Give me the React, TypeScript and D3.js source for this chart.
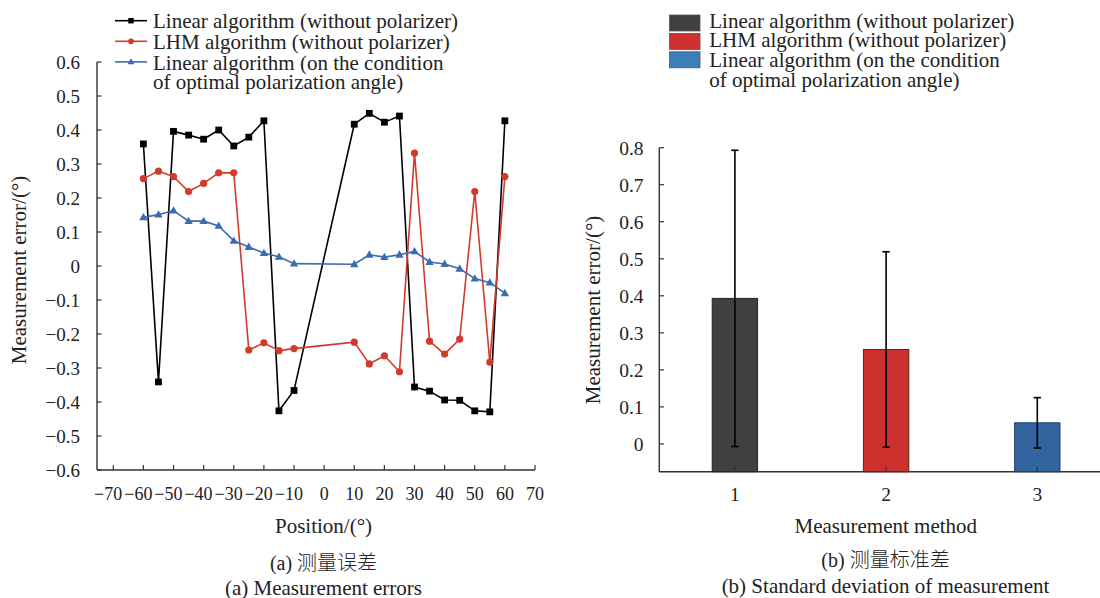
import React from 'react';
import * as d3 from 'd3';

// ---------- Data: (a) measurement errors ----------
const positions = [-60, -55, -50, -45, -40, -35, -30, -25, -20, -15, -10, 10, 15, 20, 25, 30, 35, 40, 45, 50, 55, 60];
const linearNoPolarizer = [0.359, -0.341, 0.396, 0.385, 0.373, 0.400, 0.353, 0.379, 0.427, -0.426, -0.366, 0.417, 0.449, 0.423, 0.441, -0.356, -0.368, -0.394, -0.395, -0.426, -0.429, 0.427];
const lhmNoPolarizer = [0.257, 0.279, 0.263, 0.219, 0.243, 0.274, 0.274, -0.247, -0.226, -0.249, -0.243, -0.224, -0.288, -0.264, -0.311, 0.332, -0.221, -0.259, -0.215, 0.219, -0.283, 0.263];
const linearOptimal = [0.143, 0.151, 0.163, 0.132, 0.132, 0.118, 0.074, 0.056, 0.038, 0.027, 0.007, 0.005, 0.033, 0.026, 0.033, 0.043, 0.012, 0.006, -0.008, -0.037, -0.049, -0.080];
const xTicksA = [-70, -60, -50, -40, -30, -20, -10, 0, 10, 20, 30, 40, 50, 60, 70];
const yTicksA = [-0.6, -0.5, -0.4, -0.3, -0.2, -0.1, 0, 0.1, 0.2, 0.3, 0.4, 0.5, 0.6];

// ---------- Data: (b) standard deviation ----------
const methods = [1, 2, 3];
const methodMeans = [0.393, 0.255, 0.057];
const methodStd = [0.400, 0.264, 0.068];
const yTicksB = [0, 0.1, 0.2, 0.3, 0.4, 0.5, 0.6, 0.7, 0.8];

const legendLines = [
  ['Linear algorithm (without polarizer)'],
  ['LHM algorithm (without polarizer)'],
  ['Linear algorithm (on the condition', 'of optimal polarization angle)'],
];

const lineColors = ['#000000', '#d23a2b', '#3a6cb0'];
const barColors = ['#404040', '#cc312d', '#3464a0'];
const barStrokes = ['#222222', '#6a1c18', '#1f3d66'];
const legendSwatch = ['#3f3f3f', '#cc3030', '#3b7fb6'];

const SERIF = '"Liberation Serif", "Times New Roman", Times, serif';
const CJK = '"Noto Sans CJK SC", "Noto Sans CJK JP", sans-serif';
const AXIS = '#333333';

export default function App() {
  // ----- panel (a) scales -----
  const xA = d3.scaleLinear().domain([-75.4, 70]).range([97, 535]);
  const yA = d3.scaleLinear().domain([-0.6, 0.6]).range([470, 62]);
  const series = [linearNoPolarizer, lhmNoPolarizer, linearOptimal];
  const lineGen = d3
    .line<number>()
    .x((_, i) => xA(positions[i]))
    .y((d) => yA(d));

  // ----- panel (b) scales -----
  const xB = d3.scaleLinear().domain([0.5, 3.5]).range([659.3, 1112.9]);
  const yB = d3.scaleLinear().domain([-0.075, 0.8]).range([471.7, 147.7]);
  const barHalf = 0.15;

  const fmt = (v: number) => (v === 0 ? '0' : d3.format('.1f')(v));

  const marker = (k: number, cx: number, cy: number, key: string, scale = 1) => {
    const c = lineColors[k];
    if (k === 0) {
      const s = 6.8 * scale;
      return <rect key={key} x={cx - s / 2} y={cy - s / 2} width={s} height={s} fill={c} />;
    }
    if (k === 1) {
      return <circle key={key} cx={cx} cy={cy} r={3.6 * scale} fill={c} />;
    }
    const w = 8.4 * scale;
    const h = 7.4 * scale;
    const p = `M${cx},${cy - h * 0.6}L${cx + w / 2},${cy + h * 0.4}L${cx - w / 2},${cy + h * 0.4}Z`;
    return <path key={key} d={p} fill={c} />;
  };

  const T = (props: any) => <text fontFamily={SERIF} fill="#222" {...props} />;

  return (
    <svg
      width={1100}
      height={598}
      style={{ position: 'absolute', left: 0, top: 0, background: '#fff', fontFamily: SERIF }}
    >
      <rect x={0} y={0} width={1100} height={598} fill="#fff" />

      {/* ================= Panel (a) ================= */}
      <g>
        <line x1={xA.range()[0]} x2={xA.range()[0]} y1={yA(0.6)} y2={yA(-0.6)} stroke={AXIS} strokeWidth={1.4} />
        <line x1={xA.range()[0]} x2={xA.range()[1]} y1={yA(-0.6)} y2={yA(-0.6)} stroke={AXIS} strokeWidth={1.4} />
        {yTicksA.map((v) => (
          <g key={'ya' + v}>
            <line x1={xA.range()[0]} x2={xA.range()[0] + 4.5} y1={yA(v)} y2={yA(v)} stroke={AXIS} strokeWidth={1.2} />
            <T x={80} y={yA(v)} dy="0.36em" textAnchor="end" fontSize={19}>
              {fmt(v)}
            </T>
          </g>
        ))}
        {xTicksA.map((v) => (
          <g key={'xa' + v}>
            <line x1={xA(v)} x2={xA(v)} y1={yA(-0.6)} y2={yA(-0.6) - 5} stroke={AXIS} strokeWidth={1.2} />
            <T x={xA(v)} y={500} dx={v < 0 ? '-0.282em' : 0} textAnchor="middle" fontSize={18}>
              {v < 0 ? '\u2212' + Math.abs(v) : String(v)}
            </T>
          </g>
        ))}

        {series.map((s, k) => (
          <path key={'l' + k} d={lineGen(s) || ''} fill="none" stroke={lineColors[k]} strokeWidth={1.6} />
        ))}
        {series.map((s, k) => s.map((v, i) => marker(k, xA(positions[i]), yA(v), `m${k}-${i}`)))}

        <T transform={`translate(25.5,270) rotate(-90)`} textAnchor="middle" fontSize={21}>
          Measurement error/(°)
        </T>
        <T x={323.5} y={533} textAnchor="middle" fontSize={21}>
          Position/(°)
        </T>
        <T x={323.5} y={570} textAnchor="middle" fontSize={20}>
          <tspan fontFamily={SERIF}>(a) </tspan>
          <tspan fontFamily={CJK} fontWeight={300}>测量误差</tspan>
        </T>
        <T x={323.5} y={595} textAnchor="middle" fontSize={21}>
          (a) Measurement errors
        </T>

        {legendLines.map((lines, k) => {
          const base = 28.3 + k * 20.6;
          const ly = base - 7.6;
          return (
            <g key={'lga' + k}>
              <line x1={115} x2={147} y1={ly} y2={ly} stroke={lineColors[k]} strokeWidth={1.6} />
              {marker(k, 131, ly, 'lgm' + k, 0.8)}
              {lines.map((t, j) => (
                <T key={j} x={153} y={base + j * 19.2} fontSize={21}>
                  {t}
                </T>
              ))}
            </g>
          );
        })}
      </g>

      {/* ================= Panel (b) ================= */}
      <g>
        <line x1={xB(0.5)} x2={xB(0.5)} y1={yB(0.8)} y2={yB(-0.075)} stroke={AXIS} strokeWidth={1.4} />
        <line x1={xB(0.5)} x2={1100} y1={yB(-0.075)} y2={yB(-0.075)} stroke={AXIS} strokeWidth={1.4} />
        {yTicksB.map((v) => (
          <g key={'yb' + v}>
            <line x1={xB(0.5)} x2={xB(0.5) + 4.7} y1={yB(v)} y2={yB(v)} stroke={AXIS} strokeWidth={1.2} />
            <T x={643.5} y={yB(v)} dy="0.36em" textAnchor="end" fontSize={19.5}>
              {fmt(v)}
            </T>
          </g>
        ))}

        {methods.map((m, i) => (
          <g key={'bar' + m}>
            <rect
              x={xB(m - barHalf)}
              y={yB(methodMeans[i])}
              width={xB(m + barHalf) - xB(m - barHalf)}
              height={yB(-0.075) - yB(methodMeans[i])}
              fill={barColors[i]}
              stroke={barStrokes[i]}
              strokeWidth={1}
            />
            <line x1={xB(m)} x2={xB(m)} y1={yB(-0.075)} y2={yB(-0.075) - 5} stroke={AXIS} strokeWidth={1.2} />
            <T x={xB(m)} y={501} textAnchor="middle" fontSize={19.5}>
              {m}
            </T>
          </g>
        ))}
        {methods.map((m, i) => {
          const hi = yB(methodMeans[i] + methodStd[i]);
          const lo = yB(methodMeans[i] - methodStd[i]);
          const cx = xB(m);
          return (
            <g key={'err' + m} stroke="#000" strokeWidth={1.6}>
              <line x1={cx} x2={cx} y1={hi} y2={lo} />
              <line x1={cx - 3.7} x2={cx + 3.7} y1={hi} y2={hi} />
              <line x1={cx - 3.7} x2={cx + 3.7} y1={lo} y2={lo} />
            </g>
          );
        })}

        <T transform={`translate(600,310) rotate(-90)`} textAnchor="middle" fontSize={21}>
          Measurement error/(°)
        </T>
        <T x={885.8} y={533} textAnchor="middle" fontSize={21}>
          Measurement method
        </T>
        <T x={885.5} y={566.5} textAnchor="middle" fontSize={20}>
          <tspan fontFamily={SERIF}>(b) </tspan>
          <tspan fontFamily={CJK} fontWeight={300}>测量标准差</tspan>
        </T>
        <T x={885.5} y={593} textAnchor="middle" fontSize={21}>
          (b) Standard deviation of measurement
        </T>

        {legendLines.map((lines, k) => {
          const base = 27.5 + k * 19.8;
          return (
            <g key={'lgb' + k}>
              <rect
                x={669.5}
                y={15 + k * 18.4}
                width={30.5}
                height={16}
                fill={legendSwatch[k]}
                stroke="#555"
                strokeWidth={0.8}
              />
              {lines.map((t, j) => (
                <T key={j} x={709.3} y={base + j * 20} fontSize={21}>
                  {t}
                </T>
              ))}
            </g>
          );
        })}
      </g>
    </svg>
  );
}
